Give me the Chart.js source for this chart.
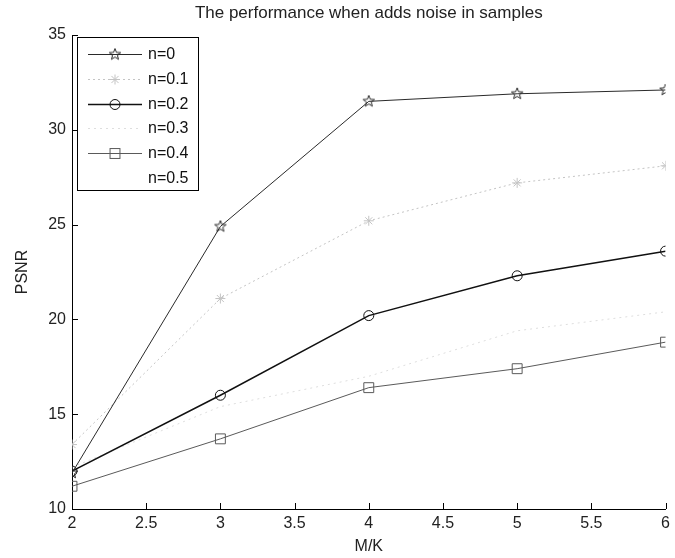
<!DOCTYPE html>
<html>
<head>
<meta charset="utf-8">
<script src="https://cdn.jsdelivr.net/npm/chart.js@4/dist/chart.umd.min.js"></script>
<style>
  html, body { margin: 0; padding: 0; background: #fff; }
  #wrap { width: 675px; height: 558px; }
</style>
</head>
<body>
<div id="wrap"><canvas id="c" width="675" height="558"></canvas></div>
<script>
// ---- data ----
const xValues = [2, 3, 4, 5, 6];
const labels = ["n=0", "n=0.1", "n=0.2", "n=0.3", "n=0.4", "n=0.5"];
const n0  = [11.9, 24.9, 31.5, 31.9, 32.1];
const n01 = [13.4, 21.1, 25.2, 27.2, 28.1];
const n02 = [12.0, 16.0, 20.2, 22.3, 23.6];
const n03 = [12.2, 15.4, 17.0, 19.4, 20.4];
const n04 = [11.2, 13.7, 16.4, 17.4, 18.8];
const n05 = [];
const xTicks = [2, 2.5, 3, 3.5, 4, 4.5, 5, 5.5, 6];
const yTicks = [10, 15, 20, 25, 30, 35];
const titleText = "The performance when adds noise in samples";
const xTitle = "M/K";
const yTitle = "PSNR";

const FONT = "'Liberation Sans', Arial, sans-serif";

function pentagram(r, color) {
  const s = Math.ceil(r * 2 + 4);
  const c = document.createElement('canvas');
  c.width = s; c.height = s;
  const g = c.getContext('2d');
  g.strokeStyle = color; g.lineWidth = 1;
  g.beginPath();
  for (let i = 0; i < 10; i++) {
    const a = -Math.PI / 2 + i * Math.PI / 5;
    const rr = (i % 2) ? r * 0.42 : r;
    const x = s / 2 + rr * Math.cos(a), y = s / 2 + rr * Math.sin(a);
    if (i === 0) g.moveTo(x, y); else g.lineTo(x, y);
  }
  g.closePath(); g.stroke();
  return c;
}

const series = [n0, n01, n02, n03, n04, n05];
const styles = [
  { color: '#2a2a2a', width: 1, dash: [], point: pentagram(6, '#2a2a2a'), radius: 6 },
  { color: '#c4c4c4', width: 1, dash: [2, 3], point: 'star', radius: 5 },
  { color: '#111111', width: 1.5, dash: [], point: 'circle', radius: 5 },
  { color: '#dedede', width: 1, dash: [2, 4], point: false, radius: 0 },
  { color: '#5a5a5a', width: 1, dash: [], point: 'rect', radius: 7 },
  { color: '#ffffff', width: 1, dash: [], point: false, radius: 0 }
];

const datasets = series.map((arr, i) => ({
  label: labels[i],
  data: arr.map((v, j) => ({ x: xValues[j], y: v })),
  borderColor: styles[i].color,
  borderWidth: styles[i].width,
  borderDash: styles[i].dash,
  pointStyle: styles[i].point,
  pointRadius: styles[i].radius,
  pointBorderColor: styles[i].color,
  pointBackgroundColor: 'rgba(0,0,0,0)',
  pointBorderWidth: 1,
  fill: false,
  tension: 0
}));

const plotTitle = {
  id: 'plotTitle',
  afterDraw(chart) {
    const ctx = chart.ctx, a = chart.chartArea;
    ctx.save();
    ctx.fillStyle = '#222';
    ctx.font = '17px ' + FONT;
    ctx.textAlign = 'center';
    ctx.textBaseline = 'middle';
    ctx.fillText(titleText, (a.left + a.right) / 2, 13);
    ctx.restore();
  }
};

const inwardTicks = {
  id: 'inwardTicks',
  afterDraw(chart) {
    const ctx = chart.ctx, a = chart.chartArea;
    const xs = chart.scales.x, ys = chart.scales.y;
    ctx.save();
    ctx.strokeStyle = '#000';
    ctx.lineWidth = 1;
    ctx.beginPath();
    xTicks.forEach(v => {
      const px = Math.round(xs.getPixelForValue(v)) + 0.5;
      ctx.moveTo(px, a.bottom); ctx.lineTo(px, a.bottom - 6);
    });
    yTicks.forEach(v => {
      const py = Math.round(ys.getPixelForValue(v)) + 0.5;
      ctx.moveTo(a.left, py); ctx.lineTo(a.left + 6, py);
    });
    ctx.stroke();
    ctx.restore();
  }
};

function drawMarker(ctx, st, x, y) {
  if (!st.point) return;
  ctx.save();
  ctx.strokeStyle = st.color; ctx.lineWidth = 1; ctx.setLineDash([]);
  if (st.point instanceof HTMLCanvasElement) {
    ctx.drawImage(st.point, x - st.point.width / 2, y - st.point.height / 2);
  } else if (st.point === 'circle') {
    ctx.beginPath(); ctx.arc(x, y, st.radius, 0, Math.PI * 2); ctx.stroke();
  } else if (st.point === 'rect') {
    const s = st.radius * Math.SQRT1_2;
    ctx.strokeRect(x - s, y - s, 2 * s, 2 * s);
  } else if (st.point === 'star') {
    const r = st.radius;
    ctx.beginPath();
    for (let k = 0; k < 4; k++) {
      const ang = k * Math.PI / 4;
      ctx.moveTo(x - r * Math.cos(ang), y - r * Math.sin(ang));
      ctx.lineTo(x + r * Math.cos(ang), y + r * Math.sin(ang));
    }
    ctx.stroke();
  }
  ctx.restore();
}

const boxLegend = {
  id: 'boxLegend',
  afterDraw(chart) {
    const ctx = chart.ctx, a = chart.chartArea;
    const left = a.left + 5, top = a.top + 2, w = 121, h = 153;
    ctx.save();
    ctx.fillStyle = '#fff';
    ctx.fillRect(left, top, w, h);
    ctx.strokeStyle = '#000'; ctx.lineWidth = 1;
    ctx.strokeRect(left + 0.5, top + 0.5, w, h);
    ctx.font = '16px ' + FONT;
    ctx.textBaseline = 'middle';
    ctx.textAlign = 'left';
    labels.forEach((lab, i) => {
      const y = Math.round(top + 17 + i * 24.8) + 0.5;
      const st = styles[i];
      ctx.save();
      ctx.strokeStyle = st.color; ctx.lineWidth = st.width; ctx.setLineDash(st.dash);
      ctx.beginPath(); ctx.moveTo(left + 11, y); ctx.lineTo(left + 65, y); ctx.stroke();
      ctx.restore();
      drawMarker(ctx, st, left + 38, y);
      ctx.fillStyle = '#111';
      ctx.fillText(lab, left + 71, y);
    });
    ctx.restore();
  }
};

new Chart(document.getElementById('c'), {
  type: 'line',
  data: { datasets },
  options: {
    responsive: false,
    animation: false,
    devicePixelRatio: 1,
    layout: { padding: { top: 35, right: 6, left: 0, bottom: 0 } },
    plugins: {
      legend: { display: false },
      title: { display: false },
      tooltip: { enabled: false }
    },
    scales: {
      x: {
        type: 'linear',
        min: 2, max: 6,
        afterFit(s) { s.height = 49; },
        afterBuildTicks(s) { s.ticks = xTicks.map(v => ({ value: v })); },
        grid: { display: false, drawTicks: false },
        border: { display: true, color: '#000', width: 1 },
        ticks: { color: '#222', font: { family: FONT, size: 16 }, padding: 5, maxRotation: 0, autoSkip: false,
                 callback: v => String(v) },
        title: { display: true, text: xTitle, color: '#222', font: { family: FONT, size: 16 }, padding: { top: 0, bottom: 2 } }
      },
      y: {
        type: 'linear',
        min: 10, max: 35,
        afterFit(s) { s.width = 72; },
        afterBuildTicks(s) { s.ticks = yTicks.map(v => ({ value: v })); },
        grid: { display: false, drawTicks: false },
        border: { display: true, color: '#000', width: 1 },
        ticks: { color: '#222', font: { family: FONT, size: 16 }, padding: 6, autoSkip: false,
                 callback: v => String(v) },
        title: { display: true, text: yTitle, color: '#222', font: { family: FONT, size: 16 }, padding: { top: 13, bottom: 0 } }
      }
    }
  },
  plugins: [plotTitle, inwardTicks, boxLegend]
});
</script>
</body>
</html>
